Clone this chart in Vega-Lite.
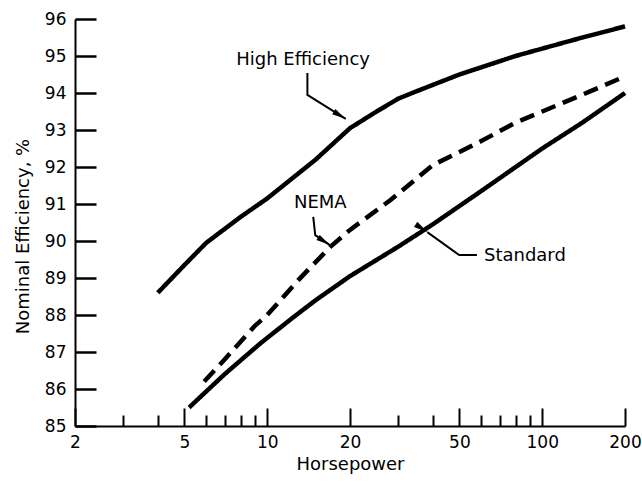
{
  "$schema": "https://vega.github.io/schema/vega-lite/v6.json",
  "width": 550,
  "height": 407,
  "autosize": {"type": "none"},
  "padding": {"left": 75, "top": 19, "right": 17, "bottom": 56},
  "background": "white",
  "config": {
    "view": {"stroke": null},
    "font": "DejaVu Sans",
    "axis": {"grid": false, "domainColor": "black", "domainWidth": 2, "tickColor": "black", "tickWidth": 2, "labelColor": "black", "titleColor": "black", "labelFontSize": 17, "titleFontSize": 18, "titleFontWeight": "normal", "labelFont": "DejaVu Sans", "titleFont": "DejaVu Sans", "labelOverlap": false}
  },
  "datasets": {
    "curves": [
      {"series": "High Efficiency", "hp": 4, "eff": 88.6},
      {"series": "High Efficiency", "hp": 5, "eff": 89.35},
      {"series": "High Efficiency", "hp": 6, "eff": 89.95},
      {"series": "High Efficiency", "hp": 8, "eff": 90.65},
      {"series": "High Efficiency", "hp": 10, "eff": 91.15},
      {"series": "High Efficiency", "hp": 15, "eff": 92.2},
      {"series": "High Efficiency", "hp": 20, "eff": 93.05},
      {"series": "High Efficiency", "hp": 25, "eff": 93.5},
      {"series": "High Efficiency", "hp": 30, "eff": 93.85},
      {"series": "High Efficiency", "hp": 35, "eff": 94.05},
      {"series": "High Efficiency", "hp": 50, "eff": 94.5},
      {"series": "High Efficiency", "hp": 80, "eff": 95.0},
      {"series": "High Efficiency", "hp": 100, "eff": 95.2},
      {"series": "High Efficiency", "hp": 140, "eff": 95.5},
      {"series": "High Efficiency", "hp": 200, "eff": 95.8},
      {"series": "NEMA", "hp": 5.9, "eff": 86.2},
      {"series": "NEMA", "hp": 7, "eff": 86.8},
      {"series": "NEMA", "hp": 9, "eff": 87.7},
      {"series": "NEMA", "hp": 10, "eff": 88.0},
      {"series": "NEMA", "hp": 13, "eff": 88.95},
      {"series": "NEMA", "hp": 17, "eff": 89.85},
      {"series": "NEMA", "hp": 20, "eff": 90.3},
      {"series": "NEMA", "hp": 28, "eff": 91.1},
      {"series": "NEMA", "hp": 40, "eff": 92.05},
      {"series": "NEMA", "hp": 60, "eff": 92.7},
      {"series": "NEMA", "hp": 80, "eff": 93.2},
      {"series": "NEMA", "hp": 100, "eff": 93.5},
      {"series": "NEMA", "hp": 150, "eff": 94.05},
      {"series": "NEMA", "hp": 200, "eff": 94.45},
      {"series": "Standard", "hp": 5.2, "eff": 85.5},
      {"series": "Standard", "hp": 7, "eff": 86.4},
      {"series": "Standard", "hp": 9.5, "eff": 87.25},
      {"series": "Standard", "hp": 12.5, "eff": 87.95},
      {"series": "Standard", "hp": 15, "eff": 88.4},
      {"series": "Standard", "hp": 20, "eff": 89.05},
      {"series": "Standard", "hp": 30, "eff": 89.85},
      {"series": "Standard", "hp": 40, "eff": 90.45},
      {"series": "Standard", "hp": 60, "eff": 91.35},
      {"series": "Standard", "hp": 100, "eff": 92.5},
      {"series": "Standard", "hp": 140, "eff": 93.2},
      {"series": "Standard", "hp": 200, "eff": 94.0}
    ],
    "leaders": [
      {"grp": "High Efficiency", "o": 1, "hp": 14.0, "eff": 94.54},
      {"grp": "High Efficiency", "o": 2, "hp": 14.0, "eff": 93.95},
      {"grp": "High Efficiency", "o": 3, "hp": 19.3, "eff": 93.3},
      {"grp": "NEMA", "o": 1, "hp": 14.7, "eff": 90.65},
      {"grp": "NEMA", "o": 2, "hp": 14.95, "eff": 90.16},
      {"grp": "NEMA", "o": 3, "hp": 16.9, "eff": 89.89},
      {"grp": "Standard", "o": 1, "hp": 57.9, "eff": 89.62},
      {"grp": "Standard", "o": 2, "hp": 49.9, "eff": 89.62},
      {"grp": "Standard", "o": 3, "hp": 38.2, "eff": 90.24}
    ],
    "labels": [
      {"grp": "High Efficiency", "hp": 13.5, "eff": 94.89},
      {"grp": "NEMA", "hp": 15.6, "eff": 91.03},
      {"grp": "Standard", "hp": 61.4, "eff": 89.6}
    ]
  },
  "resolve": {"axis": {"x": "independent", "y": "independent"}},
  "layer": [
    {
      "data": {"name": "curves"},
      "mark": {"type": "line", "color": "black", "strokeWidth": 4.5, "strokeCap": "butt"},
      "encoding": {
        "x": {"field": "hp", "type": "quantitative", "scale": {"type": "log", "domain": [2, 200], "nice": false},
              "axis": {"orient": "bottom", "values": [2, 5, 10, 20, 50, 100, 200], "tickSize": -18, "labelPadding": 26, "title": "Horsepower", "titlePadding": 5, "labelFlush": false, "labelOverlap": false}},
        "y": {"field": "eff", "type": "quantitative", "scale": {"domain": [85, 96], "nice": false, "zero": false},
              "axis": {"orient": "left", "ticks": true, "tickColor": "black", "tickWidth": 2.5, "tickOpacity": 1, "values": [85, 86, 87, 88, 89, 90, 91, 92, 93, 94, 95, 96], "tickSize": -21, "labelPadding": 30, "labelOverlap": false, "labelBound": false, "labelFlush": false, "title": "Nominal Efficiency, %", "titlePadding": 12, "titleY": 217}},
        "detail": {"field": "series"},
        "strokeDash": {"field": "series", "type": "nominal", "scale": {"domain": ["High Efficiency", "NEMA", "Standard"], "range": [[1, 0], [15, 8], [1, 0]]}, "legend": null}
      }
    },
    {
      "data": {"name": "leaders"},
      "mark": {"type": "line", "color": "black", "strokeWidth": 2},
      "encoding": {
        "x": {"field": "hp", "type": "quantitative",
              "axis": {"orient": "bottom", "values": [3, 4, 6, 7, 8, 9, 30, 40, 60, 70, 80, 90], "tickSize": -11, "labels": false, "domain": false, "title": null}},
        "y": {"field": "eff", "type": "quantitative", "axis": null},
        "detail": {"field": "grp"},
        "order": {"field": "o"}
      }
    },
    {
      "data": {"name": "leaders"},
      "transform": [{"filter": "datum.o == 3"}],
      "mark": {"type": "point", "shape": "M0,0L0.22,1L-0.22,1Z", "filled": true, "color": "black", "opacity": 1, "size": 784},
      "encoding": {
        "x": {"field": "hp", "type": "quantitative", "axis": null},
        "y": {"field": "eff", "type": "quantitative", "axis": null},
        "angle": {"field": "grp", "type": "nominal", "scale": {"domain": ["High Efficiency", "NEMA", "Standard"], "range": [121.6, 123.7, 305.7]}, "legend": null}
      }
    },
    {
      "data": {"name": "labels"},
      "transform": [{"filter": "datum.grp != 'Standard'"}],
      "mark": {"type": "text", "fontSize": 18, "font": "DejaVu Sans", "color": "black", "baseline": "middle", "align": "center"},
      "encoding": {
        "x": {"field": "hp", "type": "quantitative", "axis": null},
        "y": {"field": "eff", "type": "quantitative", "axis": null},
        "text": {"field": "grp"}
      }
    },
    {
      "data": {"name": "labels"},
      "transform": [{"filter": "datum.grp == 'Standard'"}],
      "mark": {"type": "text", "fontSize": 18, "font": "DejaVu Sans", "color": "black", "baseline": "middle", "align": "left"},
      "encoding": {
        "x": {"field": "hp", "type": "quantitative", "axis": null},
        "y": {"field": "eff", "type": "quantitative", "axis": null},
        "text": {"field": "grp"}
      }
    }
  ]
}
